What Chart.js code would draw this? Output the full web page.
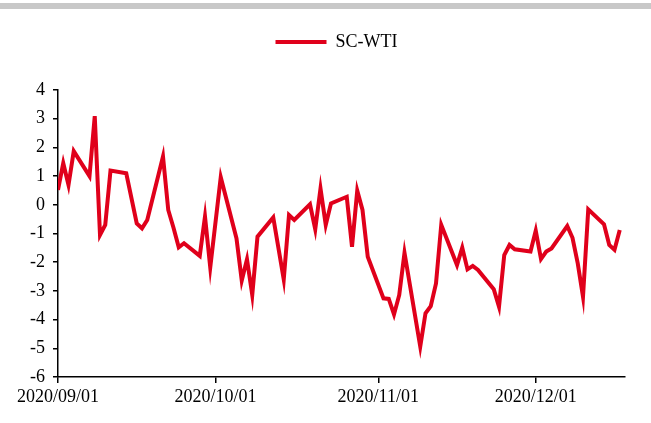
<!DOCTYPE html>
<html>
<head>
<meta charset="utf-8">
<script src="https://cdn.jsdelivr.net/npm/chart.js@4"></script>
<style>
  html, body { margin: 0; padding: 0; background: #fff; }
  #wrap { position: absolute; left: 0; top: 0; width: 651px; height: 423px; }
  #bar { position: absolute; left: 0; top: 3px; width: 651px; height: 6px; background: #c8c8c8; }
</style>
</head>
<body>
<div id="wrap"><canvas id="chart" width="651" height="423"></canvas></div>
<div id="bar"></div>
<script>
// trading days and SC-WTI spread
const dates = [
  '2020-09-01','2020-09-02','2020-09-03','2020-09-04','2020-09-07','2020-09-08','2020-09-09','2020-09-10','2020-09-11',
  '2020-09-14','2020-09-16','2020-09-17','2020-09-18','2020-09-21','2020-09-22','2020-09-23','2020-09-24','2020-09-25',
  '2020-09-28','2020-09-29','2020-09-30','2020-10-02','2020-10-05','2020-10-06','2020-10-07','2020-10-08','2020-10-09',
  '2020-10-12','2020-10-14','2020-10-15','2020-10-16','2020-10-19','2020-10-20','2020-10-21','2020-10-22','2020-10-23',
  '2020-10-26','2020-10-27','2020-10-28','2020-10-29','2020-10-30','2020-11-02','2020-11-03','2020-11-04','2020-11-05',
  '2020-11-06','2020-11-09','2020-11-10','2020-11-11','2020-11-12','2020-11-13','2020-11-16','2020-11-17','2020-11-18',
  '2020-11-19','2020-11-20','2020-11-23','2020-11-24','2020-11-25','2020-11-26','2020-11-27','2020-11-30','2020-12-01',
  '2020-12-02','2020-12-03','2020-12-04','2020-12-07','2020-12-08','2020-12-09','2020-12-10','2020-12-11','2020-12-14',
  '2020-12-15','2020-12-16','2020-12-17'
];
const spread = [
  0.52, 1.45, 0.69, 1.87, 1.0, 3.09, -1.05, -0.7, 1.19,
  1.1, -0.65, -0.82, -0.53, 1.68, -0.18, -0.8, -1.48, -1.34,
  -1.78, -0.41, -2.18, 0.96, -1.17, -2.64, -1.9, -3.14, -1.11,
  -0.44, -2.6, -0.36, -0.53, 0.02, -0.85, 0.57, -0.7, 0.05,
  0.28, -1.46, 0.49, -0.18, -1.81, -3.26, -3.28, -3.82, -3.14,
  -1.67, -4.94, -3.78, -3.53, -2.74, -0.7, -2.1, -1.49, -2.25,
  -2.13, -2.27, -2.94, -3.55, -1.75, -1.4, -1.55, -1.63, -0.9,
  -1.89, -1.63, -1.52, -0.74, -1.15, -2.04, -3.2, -0.16, -0.68,
  -1.4, -1.57, -0.88
];
const tickDates = ['2020-09-01', '2020-10-01', '2020-11-01', '2020-12-01'];
const tickLabels = ['2020/09/01', '2020/10/01', '2020/11/01', '2020/12/01'];

const start = Date.parse('2020-09-01');
const dayNo = d => (Date.parse(d) - start) / 86400000;

const red = '#e0001b';
const font = { family: '"Liberation Serif", "Times New Roman", serif', size: 18 };

// legend sits in a taller band and a bit right of the canvas centre
const legendBand = {
  id: 'legendBand',
  beforeInit(chart) {
    const fit = chart.legend.fit;
    chart.legend.fit = function () { fit.call(this); this.height = 90; };
  },
  afterLayout(chart) {
    chart.legend.left += 24;
    chart.legend.right += 24;
  }
};

new Chart(document.getElementById('chart'), {
  type: 'line',
  data: {
    datasets: [{
      label: 'SC-WTI',
      data: dates.map((d, i) => ({ x: dayNo(d), y: spread[i] })),
      borderColor: red,
      backgroundColor: red,
      borderWidth: 4,
      pointRadius: 0,
      tension: 0
    }]
  },
  options: {
    responsive: false,
    animation: false,
    devicePixelRatio: 1,
    layout: { padding: { left: 0, right: 26, top: 0, bottom: 0 } },
    plugins: {
      tooltip: { enabled: false },
      legend: {
        position: 'top',
        labels: {
          boxWidth: 51,
          boxHeight: 4,
          padding: 33,
          color: '#000',
          font: font,
          generateLabels: chart => Chart.defaults.plugins.legend.labels.generateLabels(chart)
            .map(l => Object.assign(l, { lineWidth: 0 }))
        }
      }
    },
    scales: {
      x: {
        type: 'linear',
        min: 0,
        max: 108,
        afterBuildTicks: s => { s.ticks = tickDates.map(d => ({ value: dayNo(d) })); },
        afterFit: s => { s.height = 46; },
        ticks: {
          autoSkip: false,
          maxRotation: 0,
          padding: 3,
          color: '#000',
          font: font,
          callback: (v, i) => tickLabels[i]
        },
        grid: { drawOnChartArea: false, drawTicks: true, tickLength: 6, color: '#000', lineWidth: 1.5 },
        border: { color: '#000', width: 1.5 }
      },
      y: {
        min: -6,
        max: 4,
        afterFit: s => { s.width = 58; },
        ticks: { stepSize: 1, padding: 8, color: '#000', font: font },
        grid: { drawOnChartArea: false, drawTicks: true, tickLength: 5, color: '#000', lineWidth: 1.5 },
        border: { color: '#000', width: 1.5 }
      }
    }
  },
  plugins: [legendBand]
});
</script>
</body>
</html>
